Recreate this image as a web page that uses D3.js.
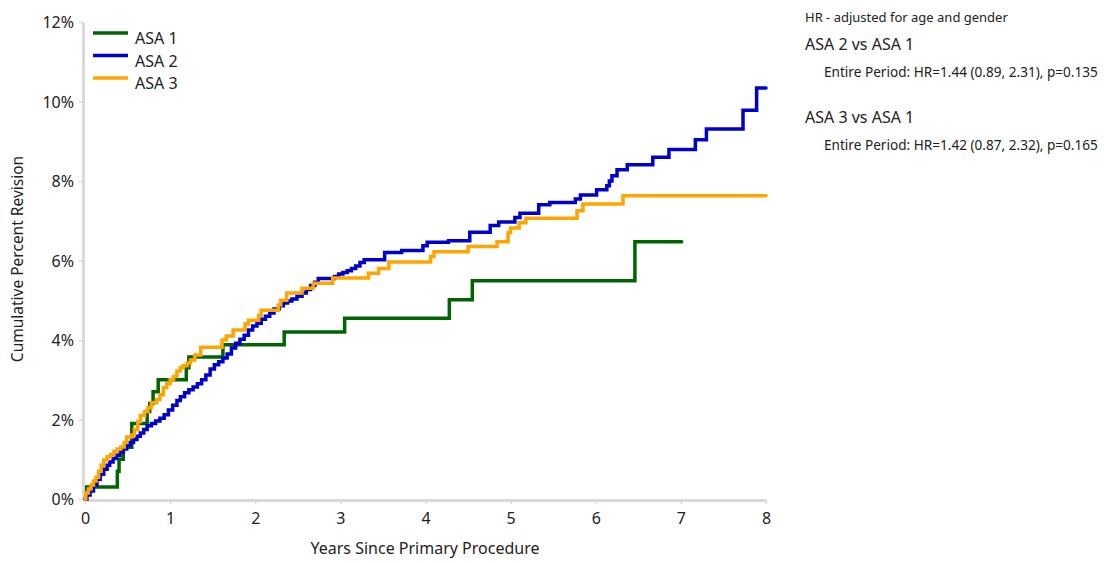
<!DOCTYPE html>
<html><head><meta charset="utf-8">
<script src="https://cdn.jsdelivr.net/npm/d3@7"></script>
<style>body{margin:0;background:#fff;}svg{display:block;font-family:"Noto Sans","Open Sans",sans-serif;}</style>
</head><body>
<svg id="chart" width="1104" height="563"></svg>
<script>
const seriesNames = ["ASA 1", "ASA 2", "ASA 3"];
const seriesColors = ["#006400", "#0000cd", "#ffa500"];
const xTicks = [0, 1, 2, 3, 4, 5, 6, 7, 8];
const yTicks = [0, 2, 4, 6, 8, 10, 12];

// [years, cumulative percent]
const asa1 = [[0,0],[0.02,0.3],[0.38,0.7],[0.40,1.0],[0.45,1.3],[0.55,1.9],[0.73,2.2],[0.76,2.4],[0.80,2.7],[0.86,3.0],[1.19,3.3],[1.22,3.57],[1.62,3.88],[2.34,4.20],[3.05,4.55],[4.28,5.01],[4.55,5.49],[6.46,6.47],[7.01,6.47]];
const asa2 = [[0,0],[0.02,0.1],[0.06,0.2],[0.10,0.35],[0.14,0.5],[0.18,0.62],[0.22,0.75],[0.26,0.85],[0.29,0.93],[0.33,1.02],[0.37,1.1],[0.41,1.18],[0.45,1.26],[0.49,1.34],[0.53,1.42],[0.57,1.5],[0.61,1.58],[0.65,1.66],[0.69,1.75],[0.73,1.84],[0.78,1.9],[0.83,1.96],[0.88,2.03],[0.93,2.12],[0.98,2.24],[1.03,2.36],[1.08,2.48],[1.12,2.57],[1.17,2.67],[1.22,2.75],[1.27,2.82],[1.32,2.9],[1.37,3.0],[1.42,3.12],[1.47,3.27],[1.52,3.38],[1.57,3.45],[1.62,3.55],[1.67,3.65],[1.72,3.8],[1.77,3.92],[1.82,4.02],[1.87,4.12],[1.92,4.25],[1.97,4.35],[2.02,4.42],[2.07,4.52],[2.12,4.6],[2.17,4.68],[2.22,4.78],[2.28,4.86],[2.33,4.93],[2.38,4.98],[2.43,5.03],[2.49,5.1],[2.55,5.18],[2.60,5.27],[2.65,5.37],[2.70,5.45],[2.74,5.55],[2.93,5.6],[2.98,5.66],[3.03,5.7],[3.08,5.74],[3.13,5.8],[3.18,5.86],[3.23,5.95],[3.28,6.02],[3.52,6.2],[3.72,6.25],[3.97,6.37],[4.02,6.46],[4.27,6.5],[4.52,6.71],[4.76,6.88],[4.86,6.97],[5.05,7.08],[5.11,7.19],[5.33,7.4],[5.46,7.46],[5.76,7.55],[5.82,7.65],[6.01,7.78],[6.13,7.88],[6.16,8.0],[6.19,8.13],[6.25,8.28],[6.37,8.41],[6.67,8.6],[6.86,8.79],[7.17,9.04],[7.30,9.31],[7.73,9.78],[7.89,10.34],[8.0,10.34]];
const asa3 = [[0,0],[0.01,0.15],[0.04,0.25],[0.07,0.35],[0.10,0.45],[0.13,0.55],[0.16,0.7],[0.19,0.85],[0.22,0.98],[0.26,1.06],[0.30,1.12],[0.34,1.2],[0.38,1.26],[0.42,1.31],[0.46,1.42],[0.49,1.56],[0.55,1.61],[0.58,1.75],[0.62,1.95],[0.65,2.1],[0.70,2.2],[0.74,2.3],[0.78,2.42],[0.84,2.5],[0.88,2.62],[0.92,2.8],[0.96,2.9],[1.00,3.0],[1.04,3.08],[1.08,3.22],[1.12,3.3],[1.15,3.35],[1.20,3.42],[1.24,3.5],[1.29,3.62],[1.36,3.82],[1.61,4.0],[1.66,4.1],[1.74,4.25],[1.88,4.4],[1.92,4.5],[2.04,4.62],[2.07,4.75],[2.27,4.88],[2.30,5.0],[2.37,5.18],[2.55,5.3],[2.68,5.43],[2.91,5.56],[3.33,5.68],[3.45,5.8],[3.57,5.96],[4.06,6.1],[4.10,6.22],[4.50,6.35],[4.84,6.47],[4.97,6.7],[5.00,6.82],[5.10,6.95],[5.18,7.06],[5.78,7.25],[5.85,7.42],[6.32,7.63],[8.0,7.63]];
const allSeries = [asa1, asa2, asa3];

const hrTitle = "HR - adjusted for age and gender";
const comparisons = ["ASA 2 vs ASA 1", "ASA 3 vs ASA 1"];
const hrTexts = ["Entire Period: HR=1.44 (0.89, 2.31), p=0.135", "Entire Period: HR=1.42 (0.87, 2.32), p=0.165"];

const svg = d3.select("#chart");
const x = d3.scaleLinear().domain([0, 8]).range([85, 766]);
const y = d3.scaleLinear().domain([0, 12]).range([499, 22]);

// axes
const xAxis = svg.append("g").attr("transform", "translate(0,500)")
  .call(d3.axisBottom(x).tickValues(xTicks).tickFormat(d3.format("d")).tickSize(4).tickSizeOuter(0));
const yAxis = svg.append("g").attr("transform", "translate(83,0)")
  .call(d3.axisLeft(y).tickValues(yTicks).tickFormat(d => d + "%").tickSize(4).tickSizeOuter(0));
[xAxis, yAxis].forEach(g => {
  g.select(".domain").attr("stroke", "#d9d9d9").attr("stroke-width", 3);
  g.selectAll(".tick line").attr("stroke", "#d9d9d9").attr("stroke-width", 1.5);
  g.selectAll(".tick text").attr("fill", "#222").attr("font-size", 16).attr("font-family", "'Noto Sans', sans-serif");
});
xAxis.selectAll(".tick text").attr("y", 9).attr("dy", "0.95em");
yAxis.selectAll(".tick text").attr("x", -9).attr("dy", "0.36em");

svg.append("text").attr("x", 425).attr("y", 554).attr("text-anchor", "middle")
  .attr("font-size", 16).attr("fill", "#222").text("Years Since Primary Procedure");
svg.append("text").attr("transform", "translate(23,259) rotate(-90)").attr("text-anchor", "middle")
  .attr("font-size", 15.5).attr("fill", "#222").text("Cumulative Percent Revision");

// lines
const line = d3.line().x(d => x(d[0])).y(d => y(d[1])).curve(d3.curveStepAfter);
allSeries.forEach((s, i) => {
  svg.append("path").datum(s).attr("d", line).attr("fill", "none")
    .attr("stroke", seriesColors[i]).attr("stroke-width", 3.5)
    .attr("stroke-linejoin", "miter").attr("stroke-linecap", "round");
});

// legend
const leg = svg.append("g");
seriesNames.forEach((n, i) => {
  const yy = 33 + i * 22.5;
  leg.append("line").attr("x1", 93).attr("x2", 128).attr("y1", yy).attr("y2", yy)
    .attr("stroke", seriesColors[i]).attr("stroke-width", 3.5);
  leg.append("text").attr("x", 135).attr("y", yy + 11).attr("font-size", 16).attr("fill", "#222").text(n);
});

// HR annotations
svg.append("text").attr("x", 805).attr("y", 22).attr("font-size", 13).attr("fill", "#222").text(hrTitle);
comparisons.forEach((c, i) => {
  const base = 50 + i * 73;
  svg.append("text").attr("x", 805).attr("y", base).attr("font-size", 16).attr("fill", "#222").text(c);
  svg.append("text").attr("x", 824).attr("y", base + 27).attr("font-size", 13.6).attr("fill", "#222").text(hrTexts[i]);
});
</script>
</body></html>
